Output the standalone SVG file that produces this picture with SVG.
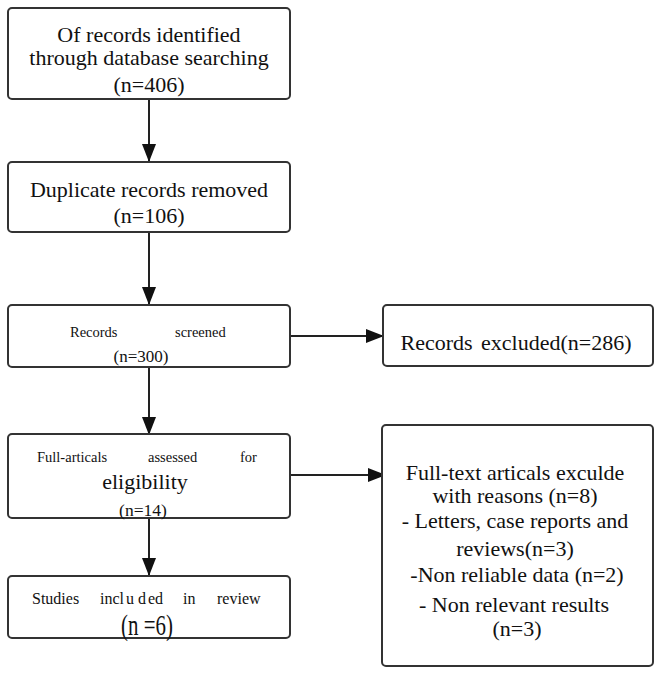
<svg xmlns="http://www.w3.org/2000/svg" width="664" height="673" viewBox="0 0 664 673">
<style>
.box{fill:#fff;stroke:#333;stroke-width:2}
.t{font-family:"Liberation Serif","Times New Roman",serif;fill:#111}
.c{stroke:#222;stroke-width:2;fill:none}
</style>
<defs>
<marker id="ah" markerUnits="userSpaceOnUse" markerWidth="19" markerHeight="14" refX="18" refY="7" orient="auto">
<path d="M0,0 L18,7 L0,14 Z" fill="#111"/>
</marker>
</defs>
<rect width="664" height="673" fill="#fff"/>
<g id="connectors">
<line class="c" x1="149" y1="99" x2="149" y2="162" marker-end="url(#ah)"/>
<line class="c" x1="149" y1="232" x2="149" y2="305" marker-end="url(#ah)"/>
<line class="c" x1="149" y1="367" x2="149" y2="435" marker-end="url(#ah)"/>
<line class="c" x1="149" y1="518" x2="149" y2="576" marker-end="url(#ah)"/>
<line class="c" x1="290" y1="336" x2="384" y2="336" marker-end="url(#ah)"/>
<line class="c" x1="290" y1="475" x2="386" y2="475" marker-end="url(#ah)"/>
</g>
<g id="n1">
<rect class="box" x="8" y="8" width="282" height="91" rx="4"/>
<text class="t" font-size="22" text-anchor="middle" x="149" y="42">Of records identified</text>
<text class="t" font-size="22" text-anchor="middle" x="149" y="65">through database searching</text>
<text class="t" font-size="22" text-anchor="middle" x="149" y="92">(n=406)</text>
</g>
<g id="n2">
<rect class="box" x="8" y="162" width="282" height="70" rx="4"/>
<text class="t" font-size="22" text-anchor="middle" x="149" y="197">Duplicate records removed</text>
<text class="t" font-size="22" text-anchor="middle" x="149" y="223">(n=106)</text>
</g>
<g id="n3">
<rect class="box" x="8" y="305" width="282" height="62" rx="4"/>
<text class="t" font-size="14.5" y="337"><tspan x="70">Records</tspan><tspan x="175">screened</tspan></text>
<text class="t" font-size="17" text-anchor="middle" x="141" y="362">(n=300)</text>
</g>
<g id="n4">
<rect class="box" x="8" y="434" width="282" height="84" rx="4"/>
<text class="t" font-size="14.5" y="462"><tspan x="37">Full-articals</tspan><tspan x="148">assessed</tspan><tspan x="240">for</tspan></text>
<text class="t" font-size="22" text-anchor="middle" x="145" y="489">eligibility</text>
<text class="t" font-size="17.5" text-anchor="middle" x="143" y="516">(n=14)</text>
</g>
<g id="n5">
<rect class="box" x="8" y="576" width="282" height="62" rx="4"/>
<text class="t" font-size="16" y="604"><tspan x="32">Studies</tspan><tspan x="100">incl</tspan><tspan x="126">u</tspan><tspan x="138">d</tspan><tspan x="148">ed</tspan><tspan x="183">in</tspan><tspan x="217">review</tspan></text>
<text class="t" font-size="22" text-anchor="middle" transform="translate(147,635) scale(0.95,1.3)">(n =6)</text>
</g>
<g id="n6">
<rect class="box" x="383" y="305" width="270" height="61" rx="4"/>
<text class="t" font-size="22" text-anchor="middle" x="516" y="350" word-spacing="3">Records excluded(n=286)</text>
</g>
<g id="n7">
<rect class="box" x="382" y="425" width="271" height="241" rx="4"/>
<text class="t" font-size="22" text-anchor="middle" x="515" y="480">Full-text articals exculde</text>
<text class="t" font-size="22" text-anchor="middle" x="515" y="503">with reasons (n=8)</text>
<text class="t" font-size="22" text-anchor="middle" x="515" y="528">- Letters, case reports and</text>
<text class="t" font-size="22" text-anchor="middle" x="515" y="556">reviews(n=3)</text>
<text class="t" font-size="22" text-anchor="middle" x="517" y="582">-Non reliable data (n=2)</text>
<text class="t" font-size="22" text-anchor="middle" x="514" y="612">- Non relevant results</text>
<text class="t" font-size="22" text-anchor="middle" x="517" y="636">(n=3)</text>
</g>
</svg>
